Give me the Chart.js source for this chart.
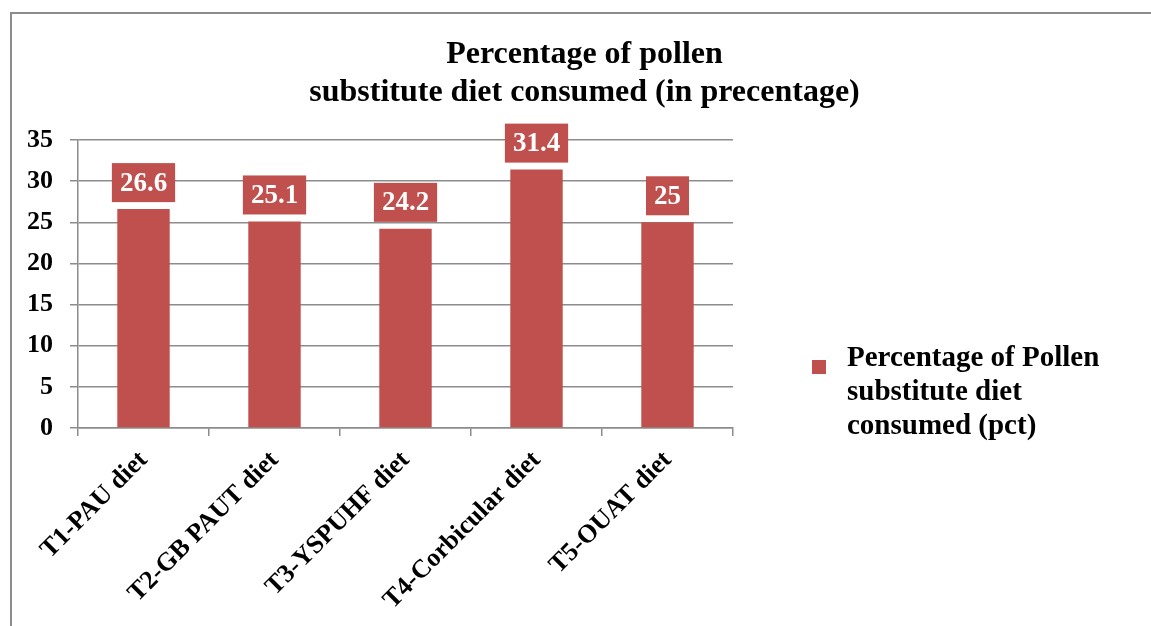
<!DOCTYPE html>
<html>
<head>
<meta charset="utf-8">
<script src="https://cdn.jsdelivr.net/npm/chart.js@4"></script>
<style>
  html, body { margin: 0; padding: 0; background: #fff; }
  #wrap { position: relative; width: 1151px; height: 626px; overflow: hidden; }
  #frame { position: absolute; left: 10px; top: 12px; width: 1200px; height: 700px;
           border-left: 2px solid #8c8c8c; border-top: 2px solid #8c8c8c; pointer-events: none; }
  canvas { position: absolute; left: 0; top: 0; }
</style>
</head>
<body>
<div id="wrap">
  <canvas id="chart" width="1151" height="626"></canvas>
  <div id="frame"></div>
</div>
<script>
const categories = ['T1-PAU diet', 'T2-GB PAUT diet', 'T3-YSPUHF diet', 'T4-Corbicular diet', 'T5-OUAT diet'];
const consumed = [26.6, 25.1, 24.2, 31.4, 25];
const yTicks = [0, 5, 10, 15, 20, 25, 30, 35];
const titleLines = ['Percentage of pollen', 'substitute diet consumed (in precentage)'];
const seriesName = 'Percentage of Pollen substitute diet consumed (pct)';
const legendLines = ['Percentage of Pollen', 'substitute diet', 'consumed (pct)'];

const SERIF = '"Liberation Serif", "Times New Roman", serif';
const BAR = '#C0504D';
const GRID = '#8c8c8c';

// value boxes above each bar
const valueBoxes = {
  id: 'valueBoxes',
  afterDatasetsDraw(chart) {
    const ctx = chart.ctx;
    const meta = chart.getDatasetMeta(0);
    ctx.save();
    ctx.font = 'bold 27px ' + SERIF;
    ctx.textAlign = 'center';
    ctx.textBaseline = 'middle';
    meta.data.forEach((bar, i) => {
      const txt = String(chart.data.datasets[0].data[i]);
      const w = ctx.measureText(txt).width + 16;
      const h = 39;
      const bottom = bar.y - 7;
      ctx.fillStyle = BAR;
      ctx.fillRect(bar.x - w / 2, bottom - h, w, h);
      ctx.fillStyle = '#fff';
      ctx.fillText(txt, bar.x, bottom - h / 2 + 1);
    });
    ctx.restore();
  }
};

// legend block at the right, wrapped over three lines
const sideLegend = {
  id: 'sideLegend',
  afterDraw(chart) {
    const ctx = chart.ctx;
    const ca = chart.chartArea;
    const sx = ca.right + 79;
    const sy = 360;
    ctx.save();
    ctx.fillStyle = BAR;
    ctx.fillRect(sx, sy, 14, 14);
    ctx.fillStyle = '#000';
    ctx.font = 'bold 29px ' + SERIF;
    ctx.textAlign = 'left';
    ctx.textBaseline = 'alphabetic';
    const baselines = [366, 400, 434];
    legendLines.forEach((line, i) => ctx.fillText(line, sx + 35, baselines[i]));
    ctx.restore();
  }
};

new Chart(document.getElementById('chart'), {
  type: 'bar',
  data: {
    labels: categories,
    datasets: [{
      label: seriesName,
      data: consumed,
      backgroundColor: BAR,
      borderWidth: 0,
      barPercentage: 0.4,
      categoryPercentage: 1.0
    }]
  },
  options: {
    responsive: false,
    animation: false,
    layout: { padding: { left: 18, right: 0, top: 0, bottom: 0 } },
    plugins: {
      legend: { display: false },
      tooltip: { enabled: false },
      title: {
        display: true,
        text: titleLines,
        color: '#000',
        font: { family: SERIF, size: 32, weight: 'bold', lineHeight: 38 / 32 },
        padding: { top: 36, bottom: 28 }
      }
    },
    scales: {
      x: {
        offset: true,
        grid: { display: true, drawOnChartArea: false, tickLength: 8, color: GRID, lineWidth: 1.5, offset: true },
        border: { display: true, color: GRID, width: 1.5 },
        ticks: {
          color: '#000',
          font: { family: SERIF, size: 26, weight: 'bold' },
          minRotation: 45, maxRotation: 45,
          padding: 9,
          autoSkip: false
        },
        afterFit(scale) { scale.height = 198; }
      },
      y: {
        min: 0, max: 35,
        afterBuildTicks(scale) { scale.ticks = yTicks.map(v => ({ value: v })); },
        grid: { color: GRID, lineWidth: 1.5, tickLength: 8 },
        border: { display: true, color: GRID, width: 1.5 },
        ticks: {
          color: '#000',
          font: { family: SERIF, size: 26, weight: 'bold' },
          padding: 17
        },
        afterFit(scale) { scale.width = 60; }
      },
      side: {
        position: 'right',
        display: true,
        grid: { display: false },
        border: { display: false },
        ticks: { display: false },
        afterFit(scale) { scale.width = 418; }
      }
    }
  },
  plugins: [valueBoxes, sideLegend]
});
</script>
</body>
</html>
